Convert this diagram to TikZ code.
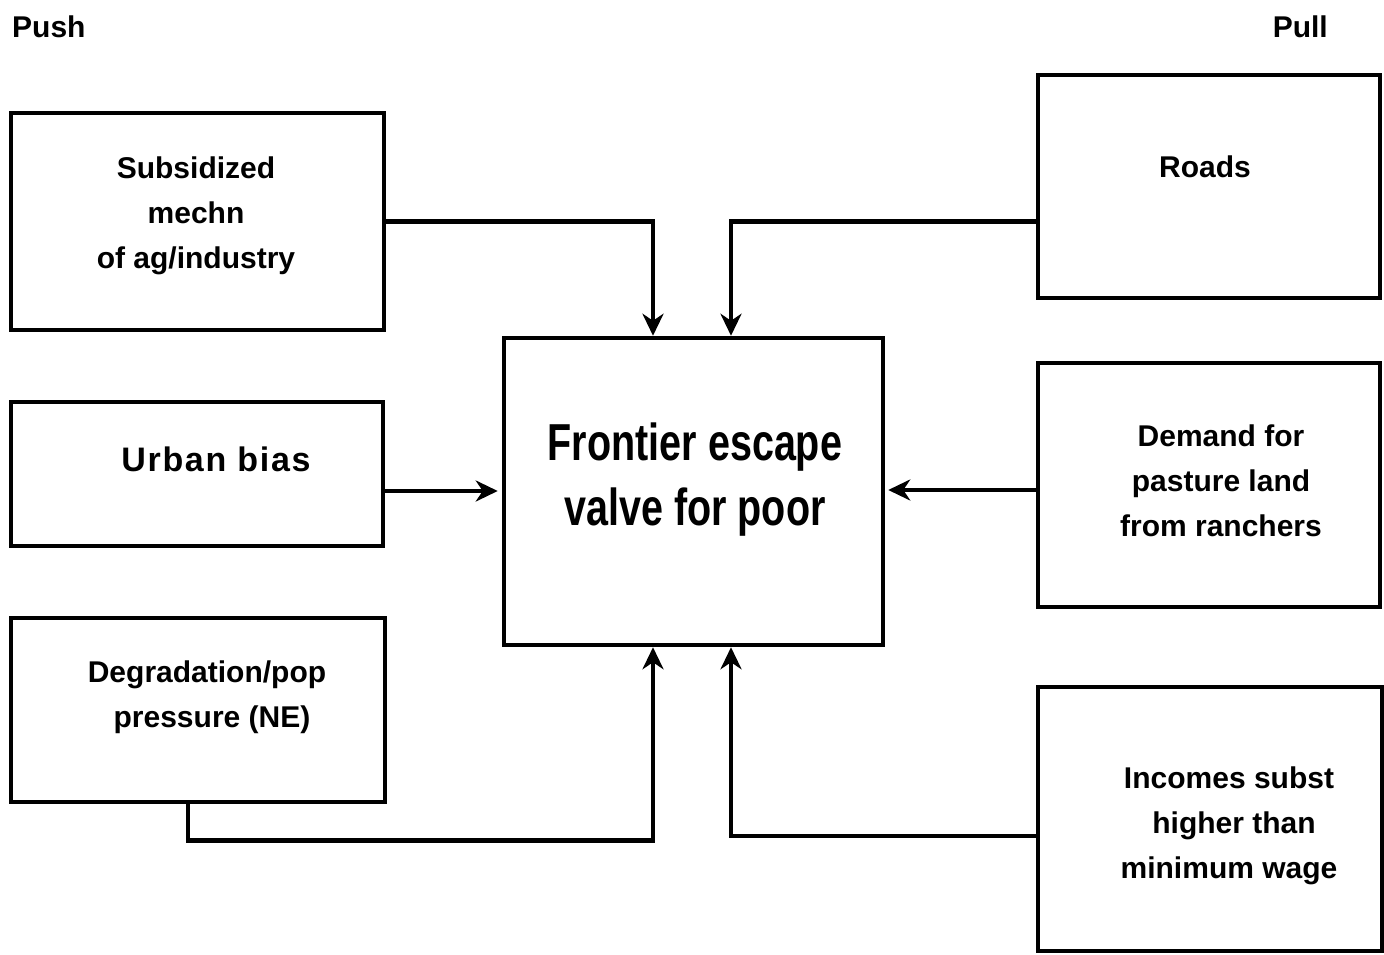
\documentclass[tikz,border=0pt]{standalone}
\usepackage{fontspec}
\setmainfont{Liberation Sans}
\newfontfamily\narrowfont[FakeStretch=0.76]{Liberation Sans}
\newfontfamily\spacedfont[LetterSpace=5]{Liberation Sans}
\usetikzlibrary{arrows.meta,calc}
\begin{document}
\begin{tikzpicture}[x=1pt,y=-1pt,
  box/.style={draw,line width=4.5pt,inner sep=0pt,rectangle},
  lbl/.style={align=center,inner sep=0pt,font=\bfseries\fontsize{30}{45}\selectfont},
  conn/.style={line width=4.5pt},
  arr/.style={line width=4.5pt,-{Stealth[length=22pt,width=21pt,inset=7pt]}}]
\useasboundingbox (0,0) rectangle (1384,955);
% boxes
\node[box,minimum width=373pt,minimum height=217pt] (sub) at (197.5,221.5) {};
\node[box,minimum width=372pt,minimum height=144pt] (urb) at (197,474) {};
\node[box,minimum width=374pt,minimum height=184pt] (deg) at (198,710) {};
\node[box,minimum width=379pt,minimum height=307pt] (cen) at (693.5,491.5) {};
\node[box,minimum width=342pt,minimum height=223pt] (rds) at (1209,186.5) {};
\node[box,minimum width=342pt,minimum height=244pt] (dem) at (1209,485) {};
\node[box,minimum width=344pt,minimum height=264pt] (inc) at (1210,819) {};
% texts
\node[lbl,anchor=west] (push) at (12,27) {Push};
\node[lbl,anchor=east] (pull) at (1328,27) {Pull};
\node[lbl] (tsub) at (196,216) {Subsidized\\mechn\\of ag/industry};
\node[inner sep=0pt,font=\spacedfont\bfseries\fontsize{34}{40}\selectfont] (turb) at (216,459) {Urban bias};
\node[lbl] (tdeg) at (207,697) {Degradation/pop\\\hspace*{10pt}pressure (NE)};
\node[align=center,inner sep=0pt,font=\narrowfont\bfseries\fontsize{52}{65}\selectfont] (tcen) at (695,480) {Frontier escape\\valve for poor};
\node[lbl] (trds) at (1205,167) {Roads};
\node[lbl] (tdem) at (1221,481) {Demand for\\pasture land\\from ranchers};
\node[lbl] (tinc) at (1229,826) {Incomes subst\\\hspace*{10pt}higher than\\minimum wage};
% connectors
\coordinate (inL) at ($(cen.north)+(-40.5,0)$);
\coordinate (inR) at ($(cen.north)+(37.5,0)$);
\coordinate (outL) at ($(cen.south)+(-40.5,0)$);
\coordinate (outR) at ($(cen.south)+(37.5,0)$);
\draw[arr] (sub.east) -| (inL);
\draw[arr] (rds.west |- sub.east) -| (inR);
\draw[arr] ($(urb.east)+(0,17)$) -- ($(cen.west |- urb.east)+(-4,17)$);
\draw[arr] ($(dem.west)+(0,5)$) -- ($(cen.east |- dem.west)+(3,5)$);
\coordinate (degc) at ($(deg.south)+(-10,0)$);
\draw[arr] (degc) |- ($(degc)+(0,36)$) -| (outL);
\draw[arr] ($(inc.west)+(0,17)$) -| (outR);
\end{tikzpicture}
\end{document}
